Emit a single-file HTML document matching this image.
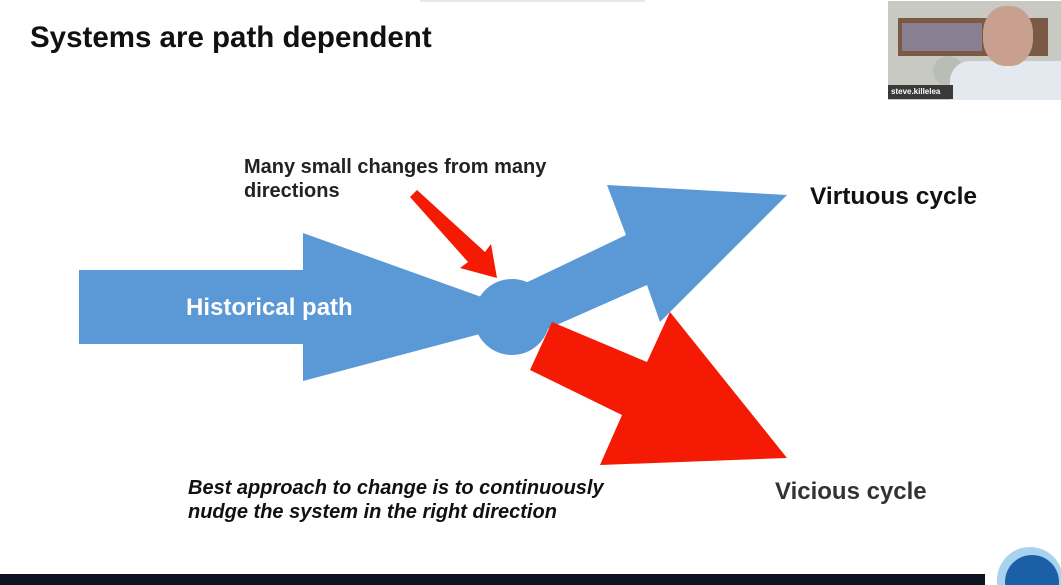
<!DOCTYPE html>
<html><head><meta charset="utf-8"><style>
html,body{margin:0;padding:0;background:#fff;}
body{width:1061px;height:585px;position:relative;overflow:hidden;font-family:"Liberation Sans",Arial,sans-serif;}
.t{position:absolute;color:#111;font-weight:bold;white-space:nowrap;}
</style></head><body>
<svg width="1061" height="585" style="position:absolute;left:0;top:0">
<rect x="420" y="0" width="225" height="2" fill="#e8e8e8"/>
<polygon points="79,270 303,270 303,233 540,318 303,381 303,344 79,344" fill="#5a98d6"/>
<polygon points="490,300 626,235 607,185 787,195 660,322 647,285 500,350" fill="#5a98d6"/>
<circle cx="512" cy="317" r="38" fill="#5a98d6"/>
<polygon points="552,322 647,362 670,312 787,458 600,465 622,415 530,370" fill="#f41a04"/>
<polygon points="410,197 417,190 485,252 491,244 497,278 460,268 468,262" fill="#f41a04"/>
<circle cx="1030" cy="580" r="33" fill="#a9d2ef"/>
<circle cx="1032" cy="582" r="27" fill="#1b5fa6"/>
<rect x="0" y="574" width="985" height="11" fill="#0b1322"/>
</svg>
<div style="position:absolute;left:888px;top:1px;width:173px;height:99px;background:#c9c9c4;overflow:hidden">
 <div style="position:absolute;left:10px;top:17px;width:150px;height:38px;background:#7a5a44"></div>
 <div style="position:absolute;left:14px;top:22px;width:80px;height:28px;background:#8a7f92"></div>
 <div style="position:absolute;left:45px;top:55px;width:30px;height:30px;border-radius:50%;background:#b8bdb5"></div>
 <div style="position:absolute;left:62px;top:60px;width:111px;height:40px;background:#e4e8ef;border-radius:20px 0 0 0"></div>
 <div style="position:absolute;left:95px;top:5px;width:50px;height:60px;border-radius:45%;background:#c9a08f"></div>
 <div style="position:absolute;left:0;top:84px;width:62px;height:14px;background:#3a3a3a;color:#fff;font-size:8px;font-weight:bold;line-height:14px;padding-left:3px">steve.killelea</div>
</div>
<div class="t" style="left:30px;top:21px;font-size:29.5px">Systems are path dependent</div>
<div class="t" style="left:244px;top:155px;font-size:20px;line-height:24px;color:#222">Many small changes from many<br>directions</div>
<div class="t" style="left:186px;top:294px;font-size:24px;color:#fff">Historical path</div>
<div class="t" style="left:810px;top:183px;font-size:24.5px">Virtuous cycle</div>
<div class="t" style="left:775px;top:478px;font-size:24px;color:#333">Vicious cycle</div>
<div class="t" style="left:188px;top:476px;font-size:20px;line-height:24px;font-style:italic;color:#111">Best approach to change is to continuously<br>nudge the system in the right direction</div>
</body></html>
